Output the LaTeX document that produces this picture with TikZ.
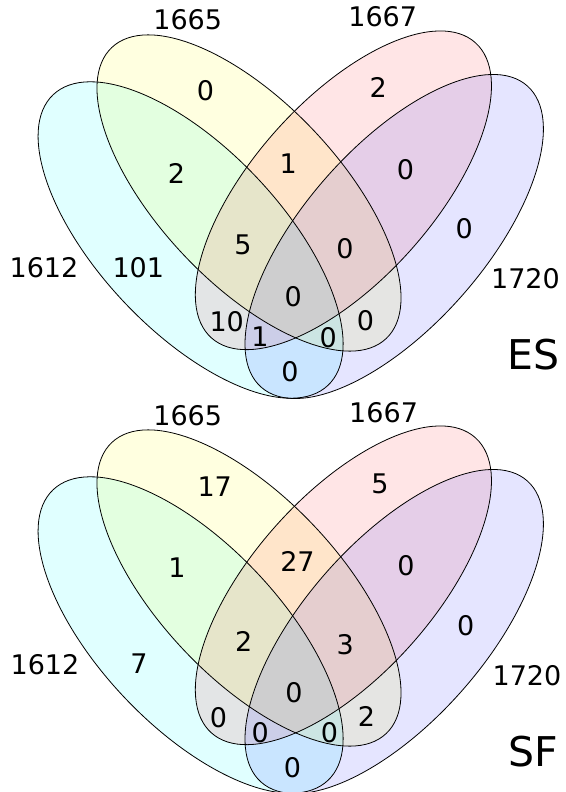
\documentclass[tikz,border=0pt]{standalone}
\usepackage{fontspec}
\setmainfont{DejaVu Sans}
\definecolor{cA}{RGB}{0,255,255}
\definecolor{cB}{RGB}{255,255,0}
\definecolor{cC}{RGB}{255,20,30}
\definecolor{cD}{RGB}{20,20,255}
\newcommand\vennellipses{%
  \fill[cA, fill opacity=0.12, shift={(190.6,240)}, rotate=-46.6] (0,0) ellipse [x radius=200, y radius=91];
  \fill[cB, fill opacity=0.12, shift={(249,193)}, rotate=-46.7] (0,0) ellipse [x radius=200, y radius=90];
  \fill[cC, fill opacity=0.11, shift={(343.4,190.3)}, rotate=48.2] (0,0) ellipse [x radius=198, y radius=90];
  \fill[cD, fill opacity=0.11, shift={(394.2,236.5)}, rotate=48.55] (0,0) ellipse [x radius=201, y radius=90];
  \draw[ell, shift={(190.6,240)}, rotate=-46.6] (0,0) ellipse [x radius=200, y radius=91];
  \draw[ell, shift={(249,193)}, rotate=-46.7] (0,0) ellipse [x radius=200, y radius=90];
  \draw[ell, shift={(343.4,190.3)}, rotate=48.2] (0,0) ellipse [x radius=198, y radius=90];
  \draw[ell, shift={(394.2,236.5)}, rotate=48.55] (0,0) ellipse [x radius=201, y radius=90];
}
\begin{document}
\begin{tikzpicture}[x=1pt,y=-1pt,
  num/.style={inner sep=0pt, font=\fontsize{27}{27}\selectfont},
  big/.style={inner sep=0pt, font=\fontsize{41}{41}\selectfont},
  ell/.style={draw=black, line width=0.8pt}]
\useasboundingbox (0,0) rectangle (565,792);
\fill[white] (0,0) rectangle (565,792);
% ---------- ES panel ----------
\begin{scope}
  \vennellipses
\end{scope}
\node[num] (esA) at (44,268) {1612};
\node[num] (esB) at (187.7,20) {1665};
\node[num] (esC) at (382.7,17) {1667};
\node[num] (esD) at (525.5,279) {1720};
\node[big] (esT) at (533.3,355) {ES};
\node[num] (es1) at (205.5,91) {0};
\node[num] (es2) at (378.3,87) {2};
\node[num] (es3) at (176.5,173) {2};
\node[num] (es4) at (288.3,164) {1};
\node[num] (es5) at (405.5,170) {0};
\node[num] (es6) at (464.3,229) {0};
\node[num] (es7) at (243,245) {5};
\node[num] (es8) at (345,249) {0};
\node[num] (es9) at (138.3,268) {101};
\node[num] (es10) at (293.3,297) {0};
\node[num] (es11) at (226.7,321.7) {10};
\node[num] (es12) at (260,337) {1};
\node[num] (es13) at (328.3,337.5) {0};
\node[num] (es14) at (365.5,320.5) {0};
\node[num] (es15) at (290,372) {0};
% ---------- SF panel ----------
\begin{scope}[shift={(0,395)}]
  \vennellipses
\end{scope}
\node[num] (sfA) at (45,665) {1612};
\node[num] (sfB) at (187.7,416) {1665};
\node[num] (sfC) at (383.6,413) {1667};
\node[num] (sfD) at (527,676) {1720};
\node[big] (sfT) at (533.4,752) {SF};
\node[num] (sf1) at (214.7,486.7) {17};
\node[num] (sf2) at (380,484) {5};
\node[num] (sf3) at (176.9,568) {1};
\node[num] (sf4) at (297.5,561.7) {27};
\node[num] (sf5) at (406,566) {0};
\node[num] (sf6) at (465.8,625.5) {0};
\node[num] (sf7) at (243.7,641.7) {2};
\node[num] (sf8) at (345.3,645) {3};
\node[num] (sf9) at (139,664) {7};
\node[num] (sf10) at (294,693) {0};
\node[num] (sf11) at (218.5,718) {0};
\node[num] (sf12) at (260.3,732.5) {0};
\node[num] (sf13) at (329.5,733) {0};
\node[num] (sf14) at (366.4,716) {2};
\node[num] (sf15) at (292.4,768) {0};
\end{tikzpicture}
\end{document}
